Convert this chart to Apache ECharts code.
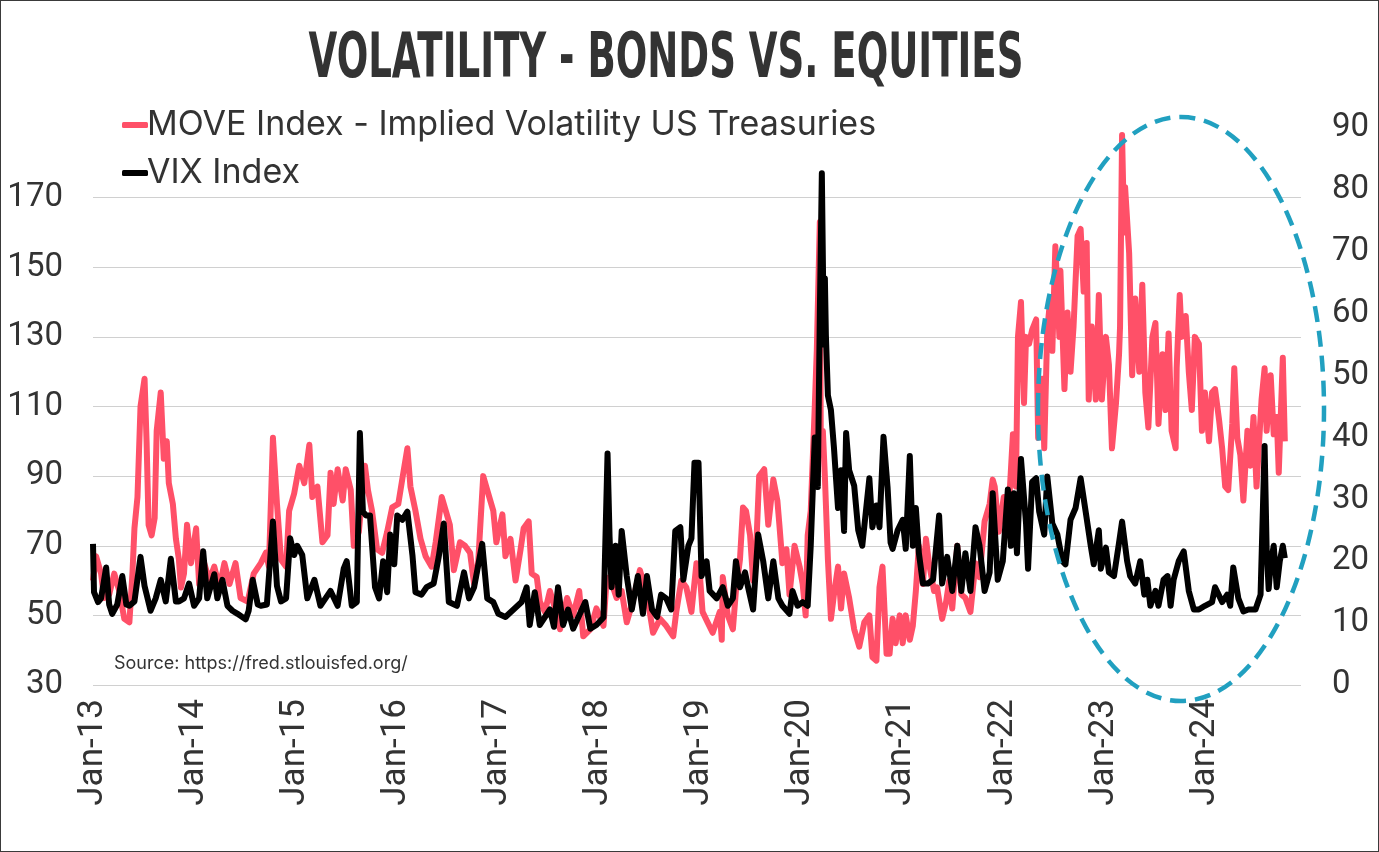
<!DOCTYPE html>
<html>
<head>
<meta charset="utf-8">
<script src="https://cdn.jsdelivr.net/npm/echarts@6/dist/echarts.min.js"></script>
<style>
  html, body { margin: 0; padding: 0; background: #fff; }
  #chart { width: 1379px; height: 852px; box-sizing: border-box; border: 1px solid #3a3a3a; }
</style>
</head>
<body>
<div id="chart"></div>
<script>
// ---------- DATA ----------
const yearLabels = ['Jan-13','Jan-14','Jan-15','Jan-16','Jan-17','Jan-18','Jan-19','Jan-20','Jan-21','Jan-22','Jan-23','Jan-24'];
const leftTicks = [30, 50, 70, 90, 110, 130, 150, 170];
const rightTicks = [0, 10, 20, 30, 40, 50, 60, 70, 80, 90];

// MOVE Index (left axis) - time in fractional years
const moveX = [
2013.00,2013.03,2013.08,2013.11,2013.16,2013.21,2013.26,2013.31,2013.36,2013.39,2013.41,2013.44,2013.47,2013.51,2013.53,2013.55,2013.58,2013.61,2013.63,2013.67,
2013.70,2013.73,2013.75,2013.79,2013.82,2013.85,2013.87,2013.90,2013.93,2013.97,2014.02,2014.05,2014.10,2014.15,2014.20,2014.25,2014.30,2014.35,2014.41,2014.46,
2014.53,2014.59,2014.66,2014.71,2014.74,2014.78,2014.82,2014.86,2014.91,2014.94,2014.99,2015.04,2015.09,2015.14,2015.17,2015.22,2015.27,2015.32,2015.35,2015.38,
2015.42,2015.47,2015.50,2015.55,2015.58,2015.63,2015.69,2015.72,2015.76,2015.81,2015.86,2015.91,2015.96,2016.02,2016.07,2016.11,2016.14,2016.19,2016.24,2016.29,
2016.35,2016.39,2016.45,2016.49,2016.53,2016.57,2016.63,2016.68,2016.73,2016.77,2016.81,2016.86,2016.90,2016.96,2016.99,2017.05,2017.08,2017.13,2017.18,2017.23,
2017.26,2017.31,2017.34,2017.39,2017.42,2017.47,2017.52,2017.57,2017.62,2017.69,2017.75,2017.81,2017.85,2017.92,2017.98,2018.05,2018.08,2018.11,2018.18,2018.23,
2018.28,2018.34,2018.41,2018.48,2018.54,2018.61,2018.67,2018.74,2018.77,2018.82,2018.87,2018.92,2018.97,2019.00,2019.03,2019.08,2019.13,2019.20,2019.22,2019.23,
2019.28,2019.33,2019.36,2019.40,2019.43,2019.46,2019.50,2019.53,2019.56,2019.59,2019.64,2019.68,2019.73,2019.77,2019.79,2019.82,2019.86,2019.89,2019.94,2019.99,
2020.02,2020.05,2020.07,2020.10,2020.14,2020.16,2020.19,2020.20,2020.22,2020.24,2020.27,2020.30,2020.33,2020.37,2020.40,2020.43,2020.48,2020.53,2020.58,2020.63,
2020.68,2020.71,2020.75,2020.78,2020.81,2020.85,2020.88,2020.91,2020.94,2020.98,2021.01,2021.04,2021.08,2021.11,2021.14,2021.17,2021.21,2021.24,2021.27,2021.32,
2021.35,2021.40,2021.44,2021.47,2021.50,2021.55,2021.59,2021.63,2021.68,2021.73,2021.77,2021.82,2021.87,2021.90,2021.92,2021.96,2022.01,2022.05,2022.10,2022.13,
2022.15,2022.18,2022.21,2022.23,2022.26,2022.29,2022.33,2022.35,2022.39,2022.41,2022.44,2022.47,2022.49,2022.52,2022.56,2022.57,2022.61,2022.64,2022.67,2022.70,
2022.74,2022.77,2022.80,2022.83,2022.85,2022.88,2022.92,2022.95,2022.98,2023.02,2023.05,2023.08,2023.12,2023.15,2023.16,2023.18,2023.20,2023.21,2023.25,2023.28,
2023.31,2023.35,2023.38,2023.41,2023.44,2023.48,2023.51,2023.54,2023.58,2023.61,2023.64,2023.67,2023.71,2023.72,2023.75,2023.77,2023.81,2023.84,2023.87,2023.90,
2023.94,2023.97,2024.00,2024.04,2024.07,2024.10,2024.14,2024.17,2024.20,2024.23,2024.27,2024.29,2024.32,2024.35,2024.38,2024.42,2024.45,2024.48,2024.51,2024.56,
2024.59,2024.61,2024.65,2024.68,2024.71,2024.73,2024.77,2024.79
];
const moveY = [
60,67,62,55,56,62,57,49,48,62,75,84,110,118,100,76,73,78,103,114,
95,100,88,82,72,66,58,62,76,65,75,59,65,60,64,58,65,59,65,55,
54,62,65,68,64,101,82,66,64,80,85,93,88,99,84,87,71,73,91,82,
92,83,92,86,70,74,93,86,80,69,68,74,81,82,91,98,87,80,72,67,
64,71,84,80,76,63,71,70,68,59,65,90,86,80,71,79,67,72,60,69,
75,77,62,61,54,51,57,52,46,55,50,57,44,46,52,47,60,61,55,57,
48,54,63,56,45,49,47,44,51,60,58,51,65,63,51,48,45,51,43,61,
50,46,57,66,81,80,73,60,69,90,92,76,89,83,76,65,69,56,70,64,
59,50,73,80,110,126,163,97,103,90,66,49,56,64,52,62,55,46,41,48,
50,38,37,58,64,39,39,49,42,50,42,50,43,47,57,70,59,72,65,57,
58,49,54,60,52,70,56,55,51,65,61,77,82,89,87,74,84,76,102,87,
130,140,111,130,128,132,135,101,118,98,132,141,126,156,130,149,115,137,120,133,
159,161,143,157,112,133,112,142,112,130,122,98,111,125,133,188,160,173,154,119,
141,120,145,114,104,130,134,105,125,109,131,103,98,121,142,130,136,120,109,130,
128,103,114,100,114,115,106,98,87,86,105,121,101,96,83,103,93,107,87,112,
121,103,119,102,107,91,124,100
];

// VIX Index (right axis)
const vixX = [
2013.00,2013.01,2013.05,2013.08,2013.13,2013.16,2013.19,2013.24,2013.29,2013.33,2013.36,2013.41,2013.47,2013.51,2013.57,2013.62,2013.67,2013.72,2013.77,2013.82,
2013.85,2013.90,2013.95,2014.00,2014.05,2014.09,2014.13,2014.20,2014.23,2014.28,2014.33,2014.38,2014.43,2014.51,2014.54,2014.58,2014.63,2014.66,2014.72,2014.78,
2014.82,2014.86,2014.91,2014.95,2014.99,2015.02,2015.07,2015.12,2015.19,2015.25,2015.30,2015.35,2015.42,2015.48,2015.51,2015.56,2015.61,2015.64,2015.67,2015.70,
2015.74,2015.79,2015.83,2015.87,2015.91,2015.94,2015.98,2016.01,2016.06,2016.11,2016.16,2016.19,2016.25,2016.30,2016.37,2016.42,2016.47,2016.52,2016.60,2016.67,
2016.72,2016.77,2016.85,2016.90,2016.96,2017.01,2017.08,2017.16,2017.24,2017.29,2017.32,2017.37,2017.42,2017.52,2017.56,2017.60,2017.65,2017.70,2017.75,2017.80,
2017.87,2017.92,2017.98,2018.05,2018.09,2018.11,2018.13,2018.17,2018.20,2018.23,2018.28,2018.33,2018.39,2018.44,2018.48,2018.53,2018.58,2018.62,2018.67,2018.72,
2018.76,2018.81,2018.84,2018.89,2018.92,2018.95,2018.99,2019.02,2019.07,2019.10,2019.17,2019.23,2019.28,2019.33,2019.36,2019.40,2019.45,2019.48,2019.53,2019.58,
2019.63,2019.68,2019.73,2019.78,2019.82,2019.89,2019.92,2019.97,2020.02,2020.07,2020.10,2020.14,2020.17,2020.19,2020.21,2020.23,2020.24,2020.25,2020.27,2020.30,
2020.33,2020.37,2020.40,2020.43,2020.45,2020.48,2020.53,2020.57,2020.61,2020.68,2020.71,2020.75,2020.78,2020.82,2020.86,2020.89,2020.91,2020.96,2021.01,2021.04,
2021.08,2021.11,2021.14,2021.17,2021.21,2021.26,2021.31,2021.37,2021.40,2021.45,2021.50,2021.55,2021.59,2021.63,2021.68,2021.73,2021.77,2021.82,2021.87,2021.90,
2021.95,2022.00,2022.05,2022.08,2022.11,2022.14,2022.18,2022.23,2022.25,2022.29,2022.33,2022.36,2022.41,2022.44,2022.49,2022.54,2022.59,2022.62,2022.67,2022.72,
2022.77,2022.82,2022.87,2022.90,2022.95,2022.97,2023.02,2023.05,2023.10,2023.15,2023.18,2023.23,2023.26,2023.31,2023.36,2023.40,2023.43,2023.46,2023.51,2023.54,
2023.59,2023.63,2023.66,2023.69,2023.74,2023.79,2023.84,2023.89,2023.94,2024.00,2024.07,2024.10,2024.17,2024.22,2024.25,2024.28,2024.33,2024.38,2024.43,2024.50,
2024.55,2024.59,2024.61,2024.63,2024.65,2024.68,2024.71,2024.74,2024.77,2024.79
];
const vixY = [
22.8,15,13.4,14,19,13,11.5,13,17.6,13,12.8,13.5,20.7,16,12,14,17,13.5,20.4,13.5,
13.5,14,16.4,12.8,14,21.6,14,17.9,14,17,12.8,12,11.5,10.6,12,17,13,12.8,13,26.4,
16,13.5,14,23.7,21,22.5,21,14,17,12.8,14,15.2,12.8,18.8,20,12.8,13.4,40.7,28,27.4,
27.4,15.8,14,20,15,24.3,19.5,27.4,26.7,28,21,15,14.6,15.8,16.4,20.7,26.1,13.4,12.8,18.2,
14,15.8,22.8,14,13.4,11.5,11,12.2,13.4,15.8,9.7,15,9.7,12.2,9.4,15.8,9.7,12.2,9.1,10.9,
13.4,9.1,9.7,10.9,37.4,24,15.8,22.5,14.6,24.9,17.6,12.2,17.6,11.5,17.6,12.2,11,14.6,14,12.2,
24.9,25.5,17,22.5,23.7,35.9,35.9,17.6,20,15.2,14,15.8,12.8,14,20,15.8,18.2,15.8,12.2,24.3,
20,14,20,14,12.8,11.5,15.2,12.8,13.4,12.8,22.5,40,32,60,82.7,55,65.7,56.5,46.8,44.4,
38.3,28.6,34.7,24.9,40.7,34.7,32.2,25,22.5,33.4,25.5,29,25.5,40.1,32,23,22,25,26.7,22,
37,22.5,28.6,21.3,16.4,16.4,17,27.4,16.4,20.7,15.2,22.5,15.2,21.3,15.2,25.5,22.5,15.2,18.2,31,
17,20,31.6,22.5,31,21.3,36.5,26.1,18.8,32.8,33.4,28,24.3,33.7,26.1,24.3,20,19.5,26.7,28.6,
33.4,28,22.5,19.5,25,18.8,22.2,18.2,17.6,23,26.4,20,17.6,16.4,20,14.6,17,12.8,15.2,12.8,
17,17.6,12.8,17,20,21.6,15.2,12.2,12.2,12.8,13.4,15.8,13.4,14.6,12.8,19,14,11.9,12.2,12.2,
14.6,38.6,22,15.5,19.5,22.5,15.8,20,22.5,20.5
];

// ---------- CHART ----------
const chart = echarts.init(document.getElementById('chart'), null, { renderer: 'canvas' });
const moveData = moveX.map((x, i) => [x, moveY[i]]);
const vixData = vixX.map((x, i) => [x, vixY[i]]);
const FONT = 'Inter, "Noto Sans", sans-serif';
const AXFONT = 'Roboto, Inter, sans-serif';
const MOVE_NAME = 'MOVE Index - Implied Volatility US Treasuries';

chart.setOption({
  animation: false,
  backgroundColor: '#ffffff',
  grid: { left: 92, right: 77, top: 127, bottom: 166, containLabel: false },
  legend: {
    orient: 'vertical',
    left: 116,
    top: 99,
    itemWidth: 26,
    itemHeight: 6,
    itemGap: 8,
    icon: 'roundRect',
    textStyle: { fontFamily: FONT, fontSize: 34, lineHeight: 40, color: '#333333', padding: [0, 0, 0, -6] },
    data: [
      { name: MOVE_NAME, itemStyle: { color: '#ff5068' } },
      { name: 'VIX Index', itemStyle: { color: '#000000' } }
    ]
  },
  xAxis: {
    type: 'value',
    min: 2013,
    max: 2024.95,
    interval: 1,
    axisLine: { show: false },
    axisTick: { show: false },
    splitLine: { show: false },
    axisLabel: {
      rotate: 90,
      margin: 14,
      fontFamily: AXFONT,
      fontSize: 35,
      color: '#333333',
      showMaxLabel: false,
      formatter: v => (Number.isInteger(v) ? (yearLabels[v - 2013] || '') : '')
    }
  },
  yAxis: [
    {
      type: 'value',
      position: 'left',
      min: 30,
      max: 190,
      interval: 20,
      axisLine: { show: false },
      axisTick: { show: false },
      splitLine: { show: true, showMaxLine: false, lineStyle: { color: '#d0d0d0', width: 1 } },
      axisLabel: {
        margin: 30,
        fontFamily: AXFONT,
        fontSize: 33,
        color: '#333333',
        formatter: v => (leftTicks.indexOf(v) >= 0 ? String(v) : '')
      }
    },
    {
      type: 'value',
      position: 'right',
      min: 0,
      max: 90,
      interval: 10,
      axisLine: { show: false },
      axisTick: { show: false },
      splitLine: { show: false },
      axisLabel: {
        margin: 31,
        fontFamily: AXFONT,
        fontSize: 33,
        color: '#333333',
        formatter: v => (rightTicks.indexOf(v) >= 0 ? String(v) : '')
      }
    }
  ],
  series: [
    {
      name: MOVE_NAME,
      type: 'line',
      yAxisIndex: 0,
      data: moveData,
      showSymbol: false,
      lineStyle: { color: '#ff5068', width: 6, join: 'round' },
      itemStyle: { color: '#ff5068' },
      z: 2
    },
    {
      name: 'VIX Index',
      type: 'line',
      yAxisIndex: 1,
      data: vixData,
      showSymbol: false,
      lineStyle: { color: '#000000', width: 6, join: 'round' },
      itemStyle: { color: '#000000' },
      z: 3
    }
  ],
  graphic: [
    {
      type: 'text',
      x: 665,
      y: 28,
      originX: 0,
      originY: 0,
      scaleX: 0.655,
      z: 10,
      style: {
        text: 'VOLATILITY - BONDS VS. EQUITIES',
        fontFamily: '"Liberation Sans Narrow", "DejaVu Sans Condensed", sans-serif',
        fontWeight: 'bold',
        fontSize: 63,
        fill: '#333333',
        textAlign: 'center',
        textVerticalAlign: 'top'
      }
    },
    {
      type: 'text',
      left: 113,
      top: 654,
      z: 10,
      style: {
        text: 'Source: https://fred.stlouisfed.org/',
        fontFamily: FONT,
        fontSize: 18,
        fill: '#333333'
      }
    },
    {
      type: 'ellipse',
      z: 20,
      shape: { cx: 1180, cy: 408, rx: 143, ry: 292 },
      style: { fill: 'none', stroke: '#21a0c0', lineWidth: 4.5, lineDash: [16, 9] }
    }
  ]
});
</script>
</body>
</html>
